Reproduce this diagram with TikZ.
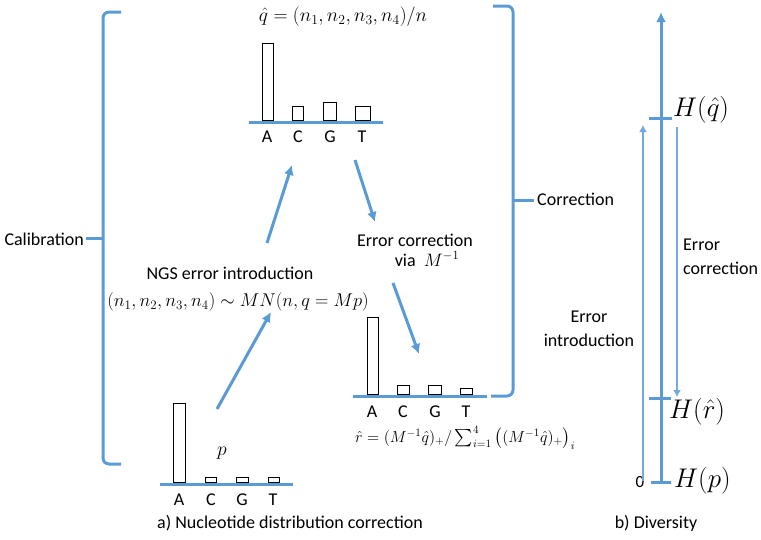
\RequirePackage{fix-cm}
\documentclass[tikz,border=0pt]{standalone}
\usepackage{amsmath}
\usepackage{fontspec}
\setmainfont{Carlito}
\usetikzlibrary{arrows.meta}
\definecolor{myblue}{RGB}{91,155,213}
\begin{document}
\begin{tikzpicture}[x=1pt,y=-1pt,
  txt/.style={font=\fontsize{18}{22}\selectfont, inner sep=0pt},
  mth/.style={font=\fontsize{19.5}{23}\selectfont, inner sep=0pt},
  big/.style={font=\fontsize{27}{30}\selectfont, inner sep=0pt},
  bline/.style={myblue, line width=3pt},
  barbox/.style={draw=black, line width=0.7pt, fill=white},
  arr/.style={myblue, line width=3pt, -{Latex[length=10pt,width=10pt]}},
  thinarr/.style={myblue!85, line width=1.3pt, -{Latex[length=7pt,width=8pt]}}]
\useasboundingbox (0,0) rectangle (761,539);

% ---- top chart
\draw[bline] (249,122) -- (383,122);
\draw[barbox] (262,43) rectangle (273,120);
\draw[barbox] (292,106) rectangle (303,120);
\draw[barbox] (323,102) rectangle (336,120);
\draw[barbox] (355,106) rectangle (370,120);
\node[txt] (tA) at (267,137) {A};
\node[txt] (tC) at (298,137) {C};
\node[txt] (tG) at (330,137) {G};
\node[txt] (tT) at (362,137) {T};
\node[mth] (qhat) at (343,17) {$\hat q = (n_1,n_2,n_3,n_4)/n$};

% ---- middle chart
\draw[bline] (353,396) -- (487,396);
\draw[barbox] (367,317) rectangle (378,394);
\draw[barbox] (397,385) rectangle (409,394);
\draw[barbox] (428,385) rectangle (441,394);
\draw[barbox] (460,388) rectangle (472,394);
\node[txt] (mA) at (372,412) {A};
\node[txt] (mC) at (403,412) {C};
\node[txt] (mG) at (435,412) {G};
\node[txt] (mT) at (466,412) {T};
\node[mth, font=\fontsize{16}{20}\selectfont, anchor=west] (rhat) at (355,438) {$\hat r = (M^{-1}\hat q)_+/\sum_{i=1}^4\big((M^{-1}\hat q)_+\big)_i$};

% ---- bottom chart
\draw[bline] (160,484) -- (293,484);
\draw[barbox] (173,403) rectangle (185,482);
\draw[barbox] (205,477) rectangle (216,482);
\draw[barbox] (236,477) rectangle (248,482);
\draw[barbox] (268,477) rectangle (279,482);
\node[txt] (bA) at (179,500) {A};
\node[txt] (bC) at (211,500) {C};
\node[txt] (bG) at (242,500) {G};
\node[txt] (bT) at (273,500) {T};
\node[mth] (p) at (222,453) {$p$};

% ---- labels
\node[txt] (ngs) at (230,273) {NGS error introduction};
\node[mth, font=\fontsize{18.5}{22}\selectfont] (mn) at (238,302) {$(n_1,n_2,n_3,n_4)\sim MN(n,q=Mp)$};
\node[txt] (ec) at (415,240) {Error correction};
\node[txt] (via) at (427,259) {via\ \ $M^{-1}$};

% ---- arrows
\coordinate (a1s) at (217,409); \coordinate (a1e) at (271,312);
\coordinate (a2s) at (267,243); \coordinate (a2e) at (292,165);
\coordinate (a3s) at (355,160); \coordinate (a3e) at (375,222);
\coordinate (a4s) at (393,283); \coordinate (a4e) at (419,354);
\draw[arr] (a1s) -- (a1e);
\draw[arr] (a2s) -- (a2e);
\draw[arr] (a3s) -- (a3e);
\draw[arr] (a4s) -- (a4e);

% ---- brackets
\draw[bline, rounded corners=6pt] (121,12) -- (103,12) -- (103,464) -- (121,464);
\draw[bline] (86,238) -- (103,238);
\node[txt, anchor=east] (calib) at (84,239) {Calibration};
\draw[bline, rounded corners=6pt] (493,6) -- (513,6) -- (513,396) -- (491,396);
\draw[bline] (513,200) -- (534,200);
\node[txt, anchor=west] (corr) at (537,199) {Correction};

% ---- diversity
\coordinate (ax0) at (661,482); \coordinate (ax1) at (661,12);
\draw[bline, -{Latex[length=10pt,width=10pt]}] (ax0) -- (ax1);
\draw[bline] (649,118) -- (672,118);
\draw[bline] (649,398) -- (671,398);
\draw[bline] (651,482) -- (671,482);
\node[big, anchor=west] (Hq) at (673,110) {$H(\hat q)$};
\node[big, anchor=west] (Hr) at (669,412) {$H(\hat r)$};
\node[big, anchor=west] (Hp) at (674,481) {$H(p)$};
\node[txt, font=\fontsize{17}{20}\selectfont] (zero) at (640,482) {0};
\coordinate (u0) at (643,481); \coordinate (u1) at (643,125);
\coordinate (d0) at (677,127); \coordinate (d1) at (677,397);
\draw[thinarr] (u0) -- (u1);
\draw[thinarr] (d0) -- (d1);
\node[txt, align=center] (ei) at (589,329) {Error\\[2pt]introduction};
\node[txt, align=left, anchor=west] (ec2) at (683,257) {Error\\[2pt]correction};

% ---- captions
\node[txt] (capa) at (290,523) {a) Nucleotide distribution correction};
\node[txt] (capb) at (656,523) {b) Diversity};
\end{tikzpicture}
\end{document}
